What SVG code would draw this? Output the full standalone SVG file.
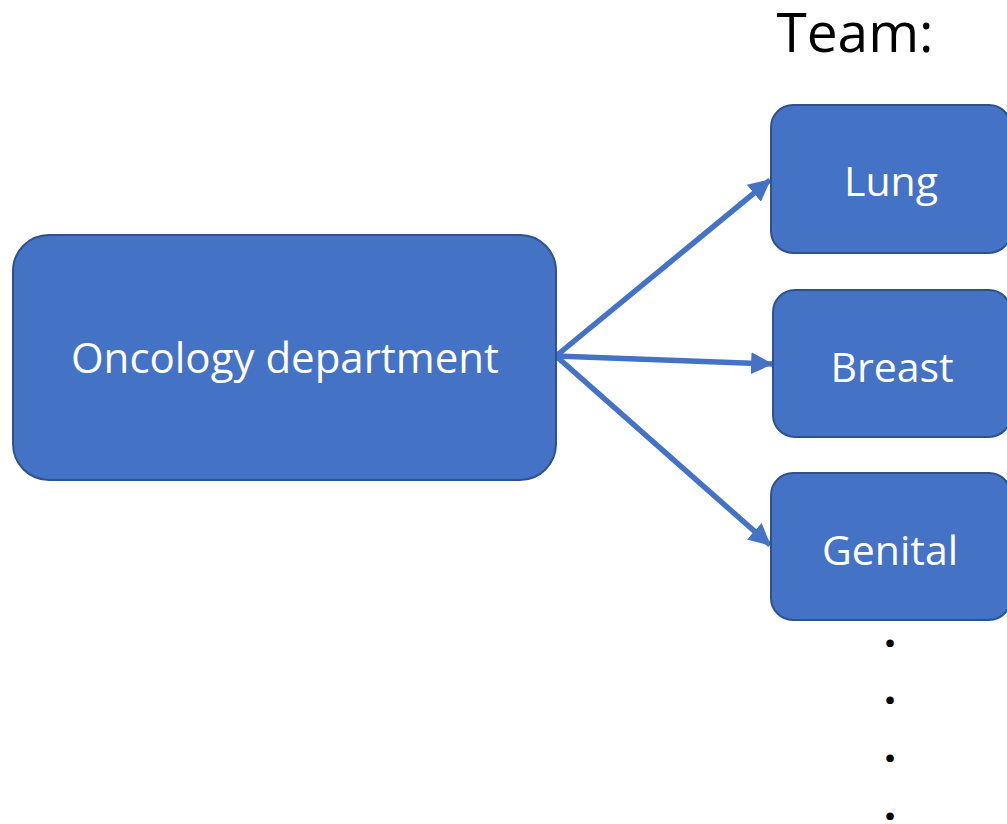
<svg xmlns="http://www.w3.org/2000/svg" width="1007" height="824" viewBox="0 0 1007 824">
<style>
.box{fill:#4472C4;stroke:#2F528F;stroke-width:2}
.lbl{fill:#FFFFFF;font-family:"Open Sans","Noto Sans",sans-serif;text-anchor:middle;font-size:41px}
.edge{stroke:#4472C4;stroke-width:5.5;fill:none;marker-end:url(#ah)}
.dot{fill:#000000;font-family:"Open Sans",sans-serif;font-size:44px;font-weight:bold;text-anchor:middle}
</style>
<defs>
<marker id="ah" markerWidth="4" markerHeight="4" refX="3.8" refY="2" orient="auto" markerUnits="strokeWidth">
<path d="M0,0 L4,2 L0,4 Z" fill="#4472C4"/>
</marker>
</defs>
<rect width="1007" height="824" fill="#FFFFFF"/>
<text x="855" y="52" font-family="Open Sans, sans-serif" font-size="55" text-anchor="middle" fill="#000000">Team:</text>
<g id="connectors">
<line class="edge" x1="556" y1="356" x2="770" y2="180"/>
<line class="edge" x1="556" y1="356" x2="772" y2="364"/>
<line class="edge" x1="556" y1="356" x2="770" y2="545"/>
</g>
<g id="oncology">
<rect class="box" x="13" y="235" width="543" height="245" rx="36"/>
<text class="lbl" x="285" y="373" style="font-size:42px">Oncology department</text>
</g>
<g id="lung">
<rect class="box" x="771" y="105" width="240" height="148" rx="22"/>
<text class="lbl" x="891" y="196">Lung</text>
</g>
<g id="breast">
<rect class="box" x="773" y="290" width="238" height="147" rx="22"/>
<text class="lbl" x="892" y="382">Breast</text>
</g>
<g id="genital">
<rect class="box" x="771" y="473" width="240" height="147" rx="22"/>
<text class="lbl" x="890" y="565">Genital</text>
</g>
<g id="dots">
<text class="dot" x="890" y="647">.</text>
<text class="dot" x="890" y="704">.</text>
<text class="dot" x="890" y="762">.</text>
<text class="dot" x="890" y="820">.</text>
</g>
</svg>
